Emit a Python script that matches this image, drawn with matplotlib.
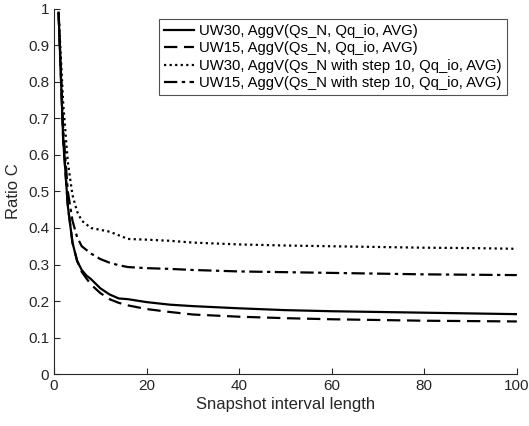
import numpy as np
import matplotlib.pyplot as plt

plt.rcParams['font.family'] = ['Liberation Sans', 'DejaVu Sans']

x = [1, 2, 3, 4, 5, 6, 7, 8, 10, 12, 14, 16, 20, 25, 30, 40, 50, 60, 70, 80, 90, 100]
uw30 = [0.99, 0.64, 0.46, 0.36, 0.31, 0.285, 0.27, 0.26, 0.235, 0.218, 0.207, 0.205,
        0.197, 0.19, 0.186, 0.18, 0.175, 0.172, 0.170, 0.168, 0.166, 0.164]
uw15 = [0.99, 0.64, 0.46, 0.36, 0.31, 0.28, 0.262, 0.245, 0.222, 0.205, 0.195, 0.188,
        0.178, 0.17, 0.163, 0.157, 0.153, 0.150, 0.148, 0.146, 0.145, 0.144]
uw30_s10 = [0.99, 0.74, 0.58, 0.49, 0.445, 0.42, 0.41, 0.40, 0.395, 0.39, 0.38, 0.37,
            0.368, 0.365, 0.36, 0.355, 0.352, 0.35, 0.348, 0.346, 0.345, 0.343]
uw15_s10 = [0.99, 0.67, 0.50, 0.42, 0.375, 0.35, 0.34, 0.33, 0.315, 0.305, 0.298, 0.293,
            0.29, 0.288, 0.285, 0.281, 0.279, 0.277, 0.275, 0.273, 0.272, 0.271]

labels = ['UW30, AggV(Qs_N, Qq_io, AVG)',
          'UW15, AggV(Qs_N, Qq_io, AVG)',
          'UW30, AggV(Qs_N with step 10, Qq_io, AVG)',
          'UW15, AggV(Qs_N with step 10, Qq_io, AVG)']

fig = plt.figure(figsize=(5.29, 4.26), dpi=100)
ax = fig.add_axes([0.102, 0.122, 0.875, 0.857])

ax.plot(x, uw30, color='black', lw=1.6, ls='-', label=labels[0])
ax.plot(x, uw15, color='black', lw=1.6, ls=(0, (6, 3)), label=labels[1])
ax.plot(x, uw30_s10, color='black', lw=1.6, ls=(0, (1, 1.5)), label=labels[2])
ax.plot(x, uw15_s10, color='black', lw=1.6, ls=(0, (6, 2, 1.5, 2)), label=labels[3])

ax.set_xlim(0, 100)
ax.set_ylim(0, 1)
ax.set_xticks(np.arange(0, 101, 20))
ax.set_yticks(np.arange(0, 1.01, 0.1))
ax.set_yticklabels(['0', '0.1', '0.2', '0.3', '0.4', '0.5', '0.6', '0.7', '0.8', '0.9', '1'])

gray = '#262626'
for s in ['top', 'right']:
    ax.spines[s].set_visible(False)
for s in ['left', 'bottom']:
    ax.spines[s].set_color(gray)
    ax.spines[s].set_linewidth(0.8)
ax.tick_params(direction='in', length=4, width=0.8, colors=gray, labelsize=11, labelcolor=gray)

ax.set_xlabel('Snapshot interval length', fontsize=12, color=gray, labelpad=3)
ax.set_ylabel('Ratio C', fontsize=12, color=gray, labelpad=5)

leg = ax.legend(loc='upper right', bbox_to_anchor=(507 / 529, 1 - 19 / 426),
                bbox_transform=fig.transFigure, fontsize=10.7, frameon=True,
                fancybox=False, handlelength=2.0, borderpad=0.35, labelspacing=0.22,
                handletextpad=0.35, borderaxespad=0)
leg.get_frame().set_edgecolor(gray)
leg.get_frame().set_linewidth(0.8)

fig.savefig('out.png', dpi=100)
